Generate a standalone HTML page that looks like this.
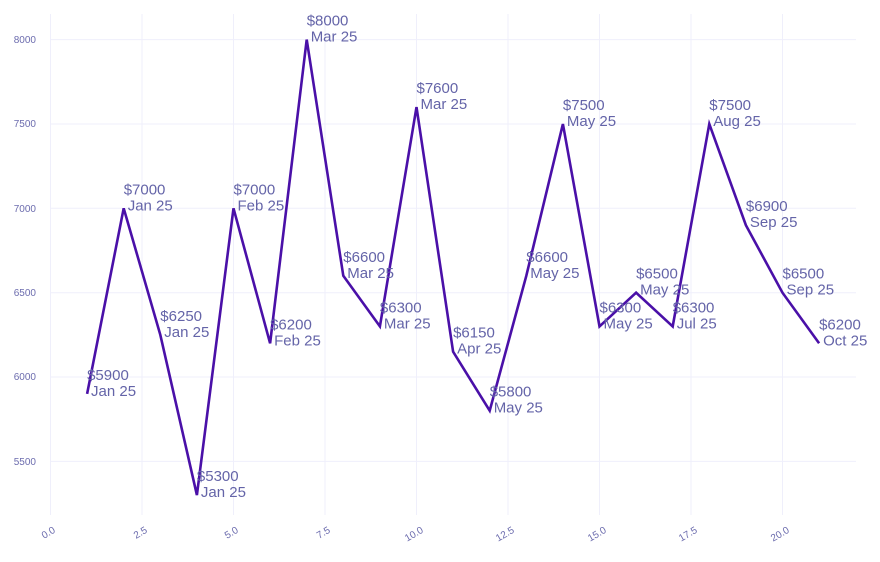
<!DOCTYPE html>
<html><head><meta charset="utf-8"><style>html,body{margin:0;padding:0;background:#fff}svg{display:block}</style></head><body>
<svg width="880" height="562" xmlns="http://www.w3.org/2000/svg" font-family="Liberation Sans, Arial, sans-serif">
<g stroke="#efeffb" stroke-width="1">
<line x1="50.5" y1="14" x2="50.5" y2="515"/><line x1="142" y1="14" x2="142" y2="515"/><line x1="233.5" y1="14" x2="233.5" y2="515"/><line x1="325" y1="14" x2="325" y2="515"/><line x1="416.5" y1="14" x2="416.5" y2="515"/><line x1="508" y1="14" x2="508" y2="515"/><line x1="599.5" y1="14" x2="599.5" y2="515"/><line x1="691" y1="14" x2="691" y2="515"/><line x1="782.5" y1="14" x2="782.5" y2="515"/>
<line x1="50" y1="39.6" x2="856" y2="39.6"/><line x1="50" y1="124" x2="856" y2="124"/><line x1="50" y1="208.3" x2="856" y2="208.3"/><line x1="50" y1="292.7" x2="856" y2="292.7"/><line x1="50" y1="377" x2="856" y2="377"/><line x1="50" y1="461.4" x2="856" y2="461.4"/>
</g>
<g fill="#6c6cae" font-size="10" text-anchor="end">
<text x="36" y="43">8000</text><text x="36" y="127">7500</text><text x="36" y="212">7000</text><text x="36" y="296">6500</text><text x="36" y="380">6000</text><text x="36" y="465">5500</text>
</g>
<g fill="#6c6cae" font-size="10" text-anchor="end">
<text transform="translate(56,532) rotate(-30)">0.0</text><text transform="translate(148,532) rotate(-30)">2.5</text><text transform="translate(239,532) rotate(-30)">5.0</text><text transform="translate(331,532) rotate(-30)">7.5</text><text transform="translate(424,532) rotate(-30)">10.0</text><text transform="translate(515,532) rotate(-30)">12.5</text><text transform="translate(607,532) rotate(-30)">15.0</text><text transform="translate(698,532) rotate(-30)">17.5</text><text transform="translate(790,532) rotate(-30)">20.0</text>
</g>
<polyline fill="none" stroke="#4a10a8" stroke-width="2.6" stroke-linejoin="miter" points="87.1,393.9 123.7,208.3 160.3,334.8 196.9,495.1 233.5,208.3 270.1,343.3 306.7,39.6 343.3,275.8 379.9,326.4 416.5,107.1 453.1,351.7 489.7,410.7 526.3,275.8 562.9,124 599.5,326.4 636.1,292.7 672.7,326.4 709.3,124 745.9,225.2 782.5,292.7 819.1,343.3"/>
<g fill="#6464a8" font-size="15">
<text x="87.1" y="379.9">$5900</text><text x="91" y="395.9">Jan 25</text>
<text x="123.7" y="194.3">$7000</text><text x="127.7" y="210.3">Jan 25</text>
<text x="160.3" y="320.8">$6250</text><text x="164.3" y="336.8">Jan 25</text>
<text x="196.9" y="481.1">$5300</text><text x="200.9" y="497.1">Jan 25</text>
<text x="233.5" y="194.3">$7000</text><text x="237.5" y="210.3">Feb 25</text>
<text x="270.1" y="329.3">$6200</text><text x="274.1" y="345.3">Feb 25</text>
<text x="306.7" y="25.6">$8000</text><text x="310.7" y="41.6">Mar 25</text>
<text x="343.3" y="261.8">$6600</text><text x="347.3" y="277.8">Mar 25</text>
<text x="379.9" y="312.4">$6300</text><text x="383.9" y="328.4">Mar 25</text>
<text x="416.5" y="93.1">$7600</text><text x="420.5" y="109.1">Mar 25</text>
<text x="453.1" y="337.7">$6150</text><text x="457.1" y="353.7">Apr 25</text>
<text x="489.7" y="396.7">$5800</text><text x="493.7" y="412.7">May 25</text>
<text x="526.3" y="261.8">$6600</text><text x="530.3" y="277.8">May 25</text>
<text x="562.9" y="110">$7500</text><text x="566.9" y="126">May 25</text>
<text x="599.5" y="312.4">$6300</text><text x="603.5" y="328.4">May 25</text>
<text x="636.1" y="278.7">$6500</text><text x="640.1" y="294.7">May 25</text>
<text x="672.7" y="312.4">$6300</text><text x="676.7" y="328.4">Jul 25</text>
<text x="709.3" y="110">$7500</text><text x="713.3" y="126">Aug 25</text>
<text x="745.9" y="211.2">$6900</text><text x="749.9" y="227.2">Sep 25</text>
<text x="782.5" y="278.7">$6500</text><text x="786.5" y="294.7">Sep 25</text>
<text x="819.1" y="329.3">$6200</text><text x="823.1" y="345.3">Oct 25</text>
</g>
</svg>
</body></html>
